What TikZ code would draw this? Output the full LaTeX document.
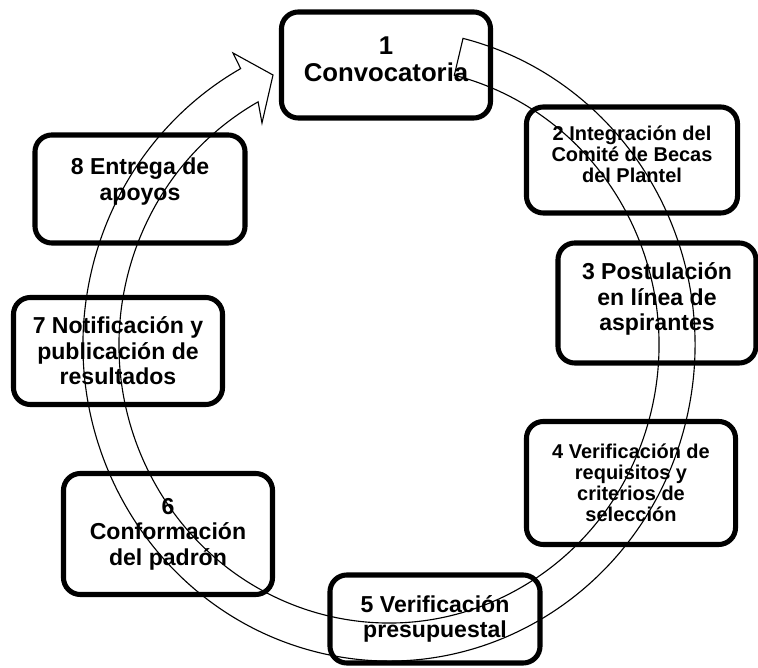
\documentclass[tikz,border=0pt]{standalone}
\usepackage{fontspec}
\setmainfont{Liberation Sans}

\begin{document}
\begin{tikzpicture}[x=0.025cm, y=-0.025cm,
  paso/.style={draw=black, line width=3.6pt, rounded corners=12pt, align=center, inner sep=0pt,
    font=\bfseries\fontsize{16.4}{18.1}\selectfont},
  pasochico/.style={paso, font=\bfseries\fontsize{14.2}{15}\selectfont}]

\useasboundingbox (0,0) rectangle (758,668);

\node[paso, font=\bfseries\fontsize{18.3}{19.5}\selectfont, text depth=0.3cm,
  minimum width=5.225cm, minimum height=2.65cm] (conv) at (386,65) {1\\Convocatoria};
\node[pasochico, text depth=0.3cm, minimum width=5.275cm, minimum height=2.65cm] (comite) at (632,160) {2 Integración del\\Comité de Becas\\del Plantel};
\node[paso, text depth=0.3cm, minimum width=4.95cm, minimum height=3cm] (postul) at (657,303) {3 Postulación\\en línea de\\aspirantes};
\node[pasochico, minimum width=5.225cm, minimum height=3.075cm] (requis) at (631,483) {4 Verificación de\\requisitos y\\criterios de\\selección};
\node[paso, minimum width=5.25cm, minimum height=2.2cm] (presup) at (435,619) {5 Verificación\\presupuestal};
\node[paso, minimum width=5.225cm, minimum height=3.025cm] (padron) at (168,534) {6\\Conformación\\del padrón};
\node[paso, minimum width=5.225cm, minimum height=2.675cm] (notif) at (118,351) {7 Notificación y\\publicación de\\resultados};
\node[paso, text depth=0.5cm, minimum width=5.25cm, minimum height=2.7cm] (apoyos) at (140,189) {8 Entrega de\\apoyos};

% flecha circular
\coordinate (centro) at (389,345);
\coordinate (punta) at (273,75);
\draw[line width=0.8pt] (centro) ++(-76:306 and 316)
  arc[start angle=-76, end angle=241, x radius=306, y radius=316]
  -- (233,53) -- (punta) -- (262,123)
  -- (258.1,101.85) arc[start angle=241, end angle=-76, x radius=270, y radius=278] -- cycle;
\end{tikzpicture}
\end{document}
